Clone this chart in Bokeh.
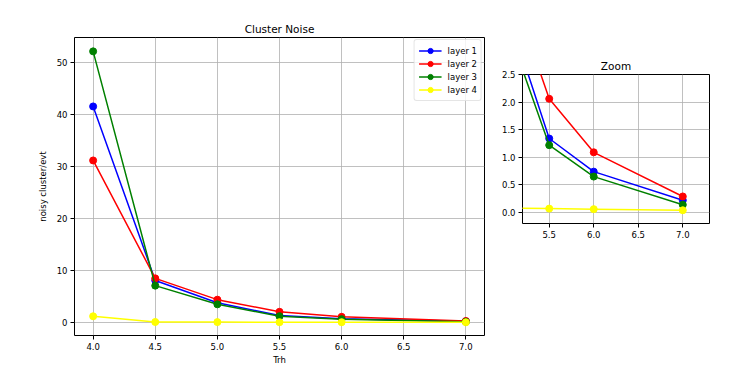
from bokeh.plotting import figure
from bokeh.layouts import row
from bokeh.models import FixedTicker, PrintfTickFormatter, Legend, LegendItem, Range1d
from bokeh.embed import file_html
from bokeh.resources import INLINE

trh = [4.0, 4.5, 5.0, 5.5, 6.0, 7.0]
layer1 = [41.6, 8.1, 3.8, 1.34, 0.74, 0.22]
layer2 = [31.2, 8.5, 4.4, 2.06, 1.09, 0.29]
layer3 = [52.2, 7.1, 3.5, 1.22, 0.65, 0.14]
layer4 = [1.2, 0.10, 0.08, 0.07, 0.06, 0.04]
names = ["layer 1", "layer 2", "layer 3", "layer 4"]
colors = ["blue", "red", "green", "yellow"]
series = [layer1, layer2, layer3, layer4]

main_xticks = [4.0, 4.5, 5.0, 5.5, 6.0, 6.5, 7.0]
main_yticks = [0, 10, 20, 30, 40, 50]
zoom_xticks = [5.5, 6.0, 6.5, 7.0]
zoom_yticks = [0.0, 0.5, 1.0, 1.5, 2.0, 2.5]

FONT = "DejaVu Sans"
TICK_PX = "8.5px"


def style(p, xticks, yticks, xfmt, yfmt):
    p.outline_line_color = "black"
    p.outline_line_width = 1
    p.outline_line_alpha = 1
    p.background_fill_color = "white"
    p.border_fill_color = "white"
    for ax, ticks, fmt in ((p.xaxis[0], xticks, xfmt), (p.yaxis[0], yticks, yfmt)):
        ax.ticker = FixedTicker(ticks=ticks)
        ax.formatter = PrintfTickFormatter(format=fmt)
        ax.major_tick_in = 0
        ax.major_tick_out = 4
        ax.minor_tick_line_color = None
        ax.axis_line_color = None
        ax.major_tick_line_color = "black"
        ax.major_label_text_font = FONT
        ax.major_label_text_font_size = TICK_PX
        ax.major_label_text_color = "black"
        ax.axis_label_text_font = FONT
        ax.axis_label_text_font_size = TICK_PX
        ax.axis_label_text_font_style = "normal"
        ax.axis_label_text_color = "black"
        ax.major_label_standoff = 3
    for g in (p.xgrid[0], p.ygrid[0]):
        g.grid_line_color = "#b0b0b0"
        g.grid_line_width = 0.8
    p.xgrid[0].ticker = FixedTicker(ticks=xticks)
    p.ygrid[0].ticker = FixedTicker(ticks=yticks)
    p.title.text_font = FONT
    p.title.text_font_size = "10.5px"
    p.title.text_font_style = "normal"
    p.title.align = "center"
    p.title.text_color = "black"
    p.title.standoff = 5


p = figure(output_backend="svg", toolbar_location=None,
           frame_width=410, frame_height=298, frame_align=False,
           min_border_left=74, min_border_right=10, min_border_top=37, min_border_bottom=30,
           x_range=Range1d(3.85, 7.15), y_range=Range1d(-2.5, 54.87),
           title="Cluster Noise", x_axis_label="Trh", y_axis_label="noisy cluster/evt")
style(p, main_xticks, main_yticks, "%.1f", "%d")
p.xaxis[0].axis_label_standoff = 2
p.yaxis[0].axis_label_standoff = 6

items = []
for name, col, ys in zip(names, colors, series):
    r1 = p.line(trh, ys, line_color=col, line_width=1.5)
    r2 = p.scatter(trh, ys, marker="circle", size=7, fill_color=col, line_color=col)
    items.append(LegendItem(label=name, renderers=[r1, r2]))

legend = Legend(items=items, location="top_right")
legend.label_text_font = FONT
legend.label_text_font_size = TICK_PX
legend.label_text_color = "black"
legend.glyph_width = 23
legend.glyph_height = 13
legend.label_height = 13
legend.label_standoff = 6
legend.spacing = 0
legend.padding = 4
legend.margin = 2
legend.border_line_color = "#cccccc"
legend.border_line_width = 1
legend.border_radius = 3
legend.background_fill_alpha = 0.8
p.add_layout(legend)

z = figure(output_backend="svg", toolbar_location=None,
           frame_width=187, frame_height=149, frame_align=False,
           min_border_left=28, min_border_right=15, min_border_top=74, min_border_bottom=30,
           x_range=Range1d(5.2, 7.3), y_range=Range1d(-0.2, 2.5),
           title="Zoom")
style(z, zoom_xticks, zoom_yticks, "%.1f", "%.1f")
for col, ys in zip(colors, series):
    z.line(trh, ys, line_color=col, line_width=1.5)
    z.scatter(trh, ys, marker="circle", size=7, fill_color=col, line_color=col)

layout = row(p, z)
open("out.html", "w").write(file_html(layout, INLINE))
